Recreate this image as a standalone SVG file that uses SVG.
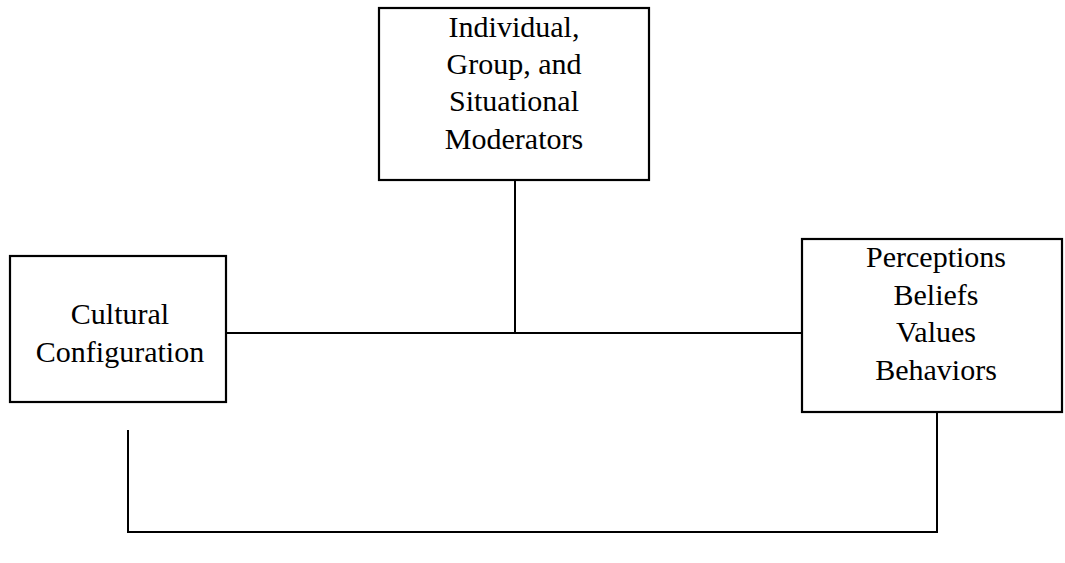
<svg xmlns="http://www.w3.org/2000/svg" width="1065" height="563" viewBox="0 0 1065 563">
<style>
.box{fill:#fff;stroke:#000;stroke-width:2.2}
.ln{fill:none;stroke:#000;stroke-width:2}
text{font-family:"Liberation Serif","Times New Roman",serif;font-size:30px;fill:#000;text-anchor:middle}
</style>
<rect width="1065" height="563" fill="#fff"/>
<g id="connectors">
<path class="ln" d="M515,180 V333"/>
<path class="ln" d="M226,333 H803"/>
<path class="ln" d="M128,430 V532 H937 V412"/>
</g>
<g id="moderators">
<rect class="box" x="379" y="8" width="270" height="172"/>
<text x="514" y="37">Individual,</text>
<text x="514" y="74">Group, and</text>
<text x="514" y="111">Situational</text>
<text x="514" y="149">Moderators</text>
</g>
<g id="cultural">
<rect class="box" x="10" y="256" width="216" height="146"/>
<text x="120" y="324">Cultural</text>
<text x="120" y="362">Configuration</text>
</g>
<g id="outcomes">
<rect class="box" x="802" y="239" width="260" height="173"/>
<text x="936" y="267">Perceptions</text>
<text x="936" y="305">Beliefs</text>
<text x="936" y="342">Values</text>
<text x="936" y="380">Behaviors</text>
</g>
</svg>
